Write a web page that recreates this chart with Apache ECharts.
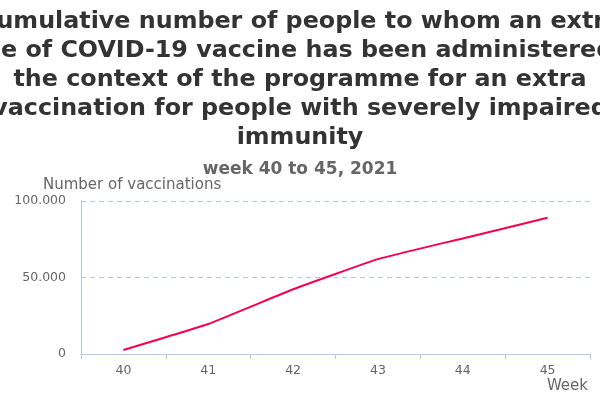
<!DOCTYPE html>
<html>
<head>
<meta charset="utf-8">
<script src="https://cdn.jsdelivr.net/npm/echarts@6/dist/echarts.min.js"></script>
<style>
    html, body { margin: 0; padding: 0; background: #fff; }
    #chart { width: 600px; height: 400px; }
</style>
</head>
<body>
<div id="chart"></div>
<script>
var weeks = ['40', '41', '42', '43', '44', '45'];
var vaccinations = [2600, 19600, 42300, 62000, 75500, 89100];

var titleLines = [
    'Cumulative number of people to whom an extra',
    'dose of COVID-19 vaccine has been administered in',
    'the context of the programme for an extra',
    'vaccination for people with severely impaired',
    'immunity'
];

function formatThousands(v) {
    return String(v).replace(/\B(?=(\d{3})+(?!\d))/g, '.');
}

var chart = echarts.init(document.getElementById('chart'));
var options = {
    textStyle: { fontFamily: 'DejaVu Sans' },
    title: {
        text: titleLines.join('\n'),
        subtext: 'week 40 to 45, 2021',
        left: 'center',
        top: 2,
        itemGap: 9,
        textStyle: {
            fontFamily: 'DejaVu Sans',
            fontWeight: 'bold',
            fontSize: 23.8,
            lineHeight: 29,
            color: '#333'
        },
        subtextStyle: {
            fontFamily: 'DejaVu Sans',
            fontWeight: 'bold',
            fontSize: 17,
            color: '#666'
        }
    },
    grid: { left: 81, right: 10, top: 201, bottom: 46, containLabel: false },
    xAxis: {
        type: 'category',
        data: weeks,
        name: 'Week',
        nameLocation: 'end',
        nameGap: 0,
        nameTextStyle: {
            color: '#666',
            fontSize: 15,
            align: 'right',
            verticalAlign: 'top',
            padding: [25, 2, 0, 0]
        },
        axisLine: { lineStyle: { color: '#b4c8e4' } },
        axisTick: { show: true, length: 5, lineStyle: { color: '#b4c8e4' } },
        axisLabel: { color: '#666', fontSize: 12.5, margin: 10 }
    },
    yAxis: {
        type: 'value',
        min: 0,
        max: 100000,
        interval: 50000,
        name: 'Number of vaccinations',
        nameGap: 8,
        nameTextStyle: {
            color: '#666',
            fontSize: 15,
            align: 'left',
            padding: [0, 0, 0, -38]
        },
        axisLine: { show: true, lineStyle: { color: '#b4c8e4' } },
        axisTick: { show: false },
        axisLabel: {
            color: '#666',
            fontSize: 12.5,
            margin: 15,
            formatter: formatThousands
        },
        splitLine: { lineStyle: { color: '#b4c8e4', type: [5, 4] } }
    },
    series: [
        {
            type: 'line',
            data: vaccinations,
            smooth: 0.1,
            symbol: 'none',
            lineStyle: { color: '#f5004f', width: 2 }
        }
    ]
};
chart.setOption(options);
</script>
</body>
</html>
